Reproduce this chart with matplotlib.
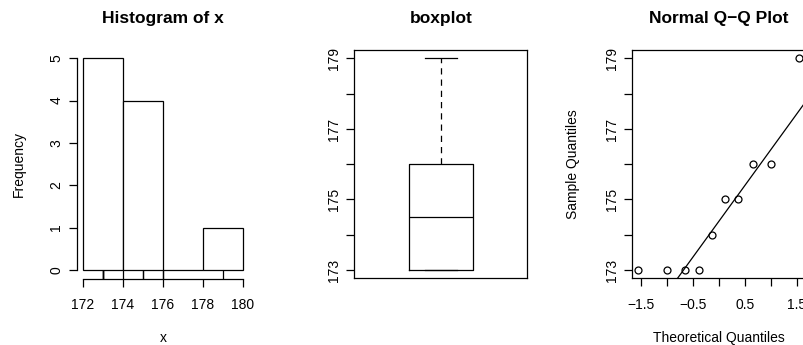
import numpy as np
import pandas as pd
from matplotlib import pyplot as plt
from statistics import NormalDist

# the sample (heights)
x = np.array([173, 174, 175, 176, 173, 179, 173, 175, 176, 173])
breaks = [172, 174, 176, 178, 180]
hist_xticks = [172, 174, 176, 178, 180]
hist_yticks = [0, 1, 2, 3, 4, 5]
sample_yticks = [173, 174, 175, 176, 177, 178, 179]
sample_ylabels = ["173", "", "175", "", "177", "", "179"]
qq_xticks = [-1.5, -1.0, -0.5, 0.0, 0.5, 1.0, 1.5]
qq_xlabels = ["\u22121.5", "", "\u22120.5", "", "0.5", "", "1.5"]

W, H = 804, 345
plt.rcParams['font.family'] = ['Liberation Sans', 'DejaVu Sans']
plt.rcParams['font.size'] = 10
fig = plt.figure(figsize=(W / 100, H / 100), dpi=100)


def px_axes(left, top, right, bottom):
    """axes from pixel box (top-left origin)"""
    return fig.add_axes([left / W, 1 - bottom / H, (right - left) / W, (bottom - top) / H])


def px_text(xp, yp, s, **kw):
    fig.text(xp / W, 1 - yp / H, s, **kw)


def fivenum(v):
    # Tukey five number summary, like R
    v = np.sort(v)
    n = len(v)
    n4 = np.floor((n + 3) / 2) / 2
    d = np.array([1, n4, (n + 1) / 2, n + 1 - n4, n]) - 1
    return 0.5 * (v[np.floor(d).astype(int)] + v[np.ceil(d).astype(int)])


def style_ticks(ax):
    ax.tick_params(direction='out', length=6, width=0.9, colors='black', labelsize=10)
    ax.tick_params(axis='x', pad=8)
    ax.tick_params(axis='y', pad=3.5)
    for lab in ax.get_yticklabels():
        lab.set_rotation(90)
        lab.set_va('center')


LW = 0.9

# ---- histogram ----
ax1 = px_axes(76.6, 49.8, 249.4, 278.5)
# R style right-closed bins
counts = pd.Series(pd.cut(x, breaks, right=True)).value_counts(sort=False).values
ax1.bar(breaks[:-1], counts, width=np.diff(breaks), align='edge',
        facecolor='white', edgecolor='black', linewidth=LW)
# rug
ax1.vlines(x, 0, 0.035, transform=ax1.get_xaxis_transform(), color='black',
           linewidth=LW, clip_on=False)
ax1.set_xlim(171.68, 180.32)
ax1.set_ylim(-0.2, 5.2)
ax1.set_xticks(hist_xticks)
ax1.set_yticks(hist_yticks)
for s in ['top', 'right']:
    ax1.spines[s].set_visible(False)
ax1.spines['left'].set_bounds(0, 5)
ax1.spines['bottom'].set_bounds(172, 180)
for s in ['left', 'bottom']:
    ax1.spines[s].set_linewidth(LW)
style_ticks(ax1)
px_text(163, 23, "Histogram of x", ha='center', va='baseline', fontsize=12.5, fontweight='bold')
px_text(163, 342, "x", ha='center', va='baseline')
px_text(19, 164, "Frequency", ha='center', va='center', rotation=90)

# ---- boxplot ----
ax2 = px_axes(354.3, 50, 527.3, 278.4)
f = fivenum(x)
stats = [dict(whislo=f[0], q1=f[1], med=f[2], q3=f[3], whishi=f[4], fliers=[])]
ax2.bxp(stats, positions=[1], widths=0.4, capwidths=0.2, manage_ticks=False,
        boxprops=dict(color='black', linewidth=LW),
        medianprops=dict(color='black', linewidth=LW),
        whiskerprops=dict(color='black', linewidth=LW, linestyle=(0, (5, 4))),
        capprops=dict(color='black', linewidth=LW))
ax2.set_xlim(0.46, 1.54)
ax2.set_ylim(172.76, 179.24)
ax2.set_xticks([])
ax2.set_yticks(sample_yticks)
ax2.set_yticklabels(sample_ylabels)
for s in ax2.spines.values():
    s.set_linewidth(LW)
style_ticks(ax2)
px_text(441, 23, "boxplot", ha='center', va='baseline', fontsize=12.5, fontweight='bold')

# ---- normal Q-Q ----
ax3 = px_axes(631.7, 50, 805.8, 278.4)
n = len(x)
a = 3 / 8 if n <= 10 else 0.5
nd = NormalDist()
theo = np.array([nd.inv_cdf((i - a) / (n + 1 - 2 * a)) for i in range(1, n + 1)])
samp = np.sort(x)
ax3.plot(theo, samp, 'o', mfc='none', mec='black', ms=5, mew=LW)
yq = np.quantile(x, [0.25, 0.75])
xq = np.array([nd.inv_cdf(0.25), nd.inv_cdf(0.75)])
ax3.axline((xq[0], yq[0]), (xq[1], yq[1]), color='black', linewidth=LW)
ext = 0.04 * (theo.max() - theo.min())
ax3.set_xlim(theo.min() - ext, theo.max() + ext)
ax3.set_ylim(172.76, 179.24)
ax3.set_xticks(qq_xticks)
ax3.set_xticklabels(qq_xlabels)
ax3.set_yticks(sample_yticks)
ax3.set_yticklabels(sample_ylabels)
for s in ax3.spines.values():
    s.set_linewidth(LW)
style_ticks(ax3)
px_text(719, 23, "Normal Q\u2212Q Plot", ha='center', va='baseline', fontsize=12.5, fontweight='bold')
px_text(719, 342, "Theoretical Quantiles", ha='center', va='baseline')
px_text(573, 164, "Sample Quantiles", ha='center', va='center', rotation=90)

fig.savefig("out.png", dpi=100)
